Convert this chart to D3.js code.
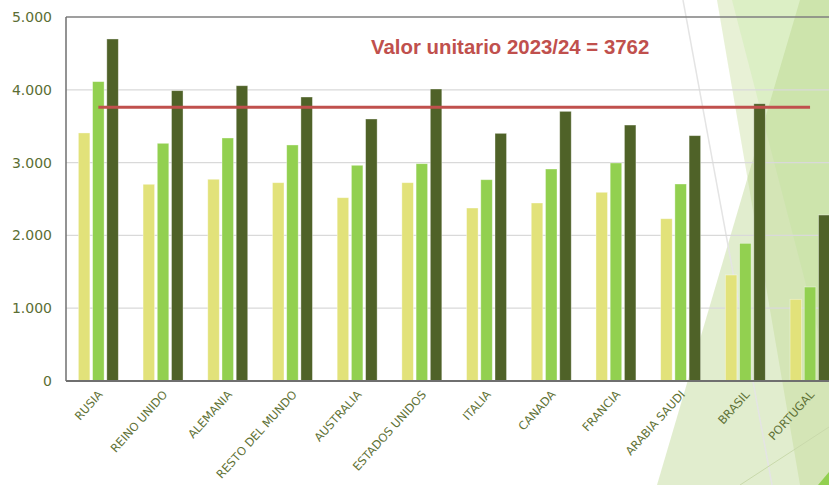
<!DOCTYPE html>
<html>
<head>
<meta charset="utf-8">
<script src="https://cdn.jsdelivr.net/npm/d3@7"></script>
<style>
  body { margin: 0; background: #ffffff; overflow: hidden; }
  svg { display: block; }
</style>
</head>
<body>
<div id="chart"></div>
<script>
// Datos del gráfico
const paises = ["RUSIA", "REINO UNIDO", "ALEMANIA", "RESTO DEL MUNDO", "AUSTRALIA", "ESTADOS UNIDOS",
  "ITALIA", "CANADA", "FRANCIA", "ARABIA SAUDI", "BRASIL", "PORTUGAL"];
const serie1 = [3407, 2702, 2771, 2724, 2518, 2724, 2376, 2445, 2592, 2229, 1456, 1122];
const serie2 = [4112, 3265, 3338, 3242, 2963, 2985, 2765, 2912, 2995, 2706, 1891, 1291];
const serie3 = [4698, 3988, 4056, 3901, 3599, 4011, 3402, 3704, 3516, 3370, 3809, 2280];
const seriesNombres = ["serie1", "serie2", "serie3"];
const seriesColores = ["#e2e27a", "#92d050", "#4f6228"];
const yTicks = [0, 1000, 2000, 3000, 4000, 5000];
const valorUnitario = 3762;
const titulo = "Valor unitario 2023/24 = 3762";

// Dimensiones
let w = 829, h = 485;
let mLeft = 66, mTop = 17, mBottom = 381;

let svg = d3.select("#chart").append("svg").attr("width", w).attr("height", h);

// Fondo decorativo (formas del tema)
let deco = svg.append("g");
deco.append("polygon").attr("points", "717,0 829,0 829,485 800,485")
  .attr("fill", "#d6e6b4").attr("opacity", 0.55);
deco.append("polygon").attr("points", "732,0 829,0 829,485 858,485")
  .attr("fill", "#c6eaa6").attr("opacity", 0.35);
deco.append("polygon").attr("points", "800,0 829,0 829,485 657,485")
  .attr("fill", "#b8d48a").attr("opacity", 0.42);
deco.append("line").attr("x1", 683).attr("y1", 0).attr("x2", 772).attr("y2", 485)
  .attr("stroke", "#e4e4e4").attr("stroke-width", 1.5);
deco.append("line").attr("x1", 740).attr("y1", 485).attr("x2", 829).attr("y2", 427)
  .attr("stroke", "#c9d9ab").attr("stroke-width", 1);
deco.append("polygon").attr("points", "818,485 829,485 829,472").attr("fill", "#92d050");

// Escalas
let x0 = d3.scaleBand().domain(paises).range([mLeft, mLeft + 64.7 * paises.length]).padding(0);
let x1 = d3.scaleBand().domain(seriesNombres).range([0, x0.bandwidth()]).paddingInner(0.19).paddingOuter(0.87);
let y = d3.scaleLinear().domain([0, 5000]).range([mBottom, mTop]);

// Líneas de cuadrícula
svg.append("g").selectAll("line").data(yTicks.filter(d => d > 0 && d < 5000)).enter().append("line")
  .attr("x1", mLeft).attr("x2", w)
  .attr("y1", d => y(d)).attr("y2", d => y(d))
  .attr("stroke", "#d9d9d9").attr("stroke-width", 1.2);

// Borde superior
svg.append("line").attr("x1", mLeft).attr("x2", w).attr("y1", y(5000)).attr("y2", y(5000))
  .attr("stroke", "#7f7f7f").attr("stroke-width", 1.5);

// Eje Y
let yAxis = svg.append("g").attr("transform", "translate(" + mLeft + ",0)")
  .call(d3.axisLeft(y).tickValues(yTicks).tickSize(0).tickPadding(14)
    .tickFormat(d => d3.format(",")(d).replace(/,/g, ".")));
yAxis.select(".domain").remove();
yAxis.selectAll("text").attr("fill", "#5b6e34").style("font-family", "DejaVu Sans")
  .style("font-size", "14px");

// Barras
let datos = paises.map((p, i) => ({ pais: p, valores: [serie1[i], serie2[i], serie3[i]] }));
let grupos = svg.append("g").selectAll("g").data(datos).enter().append("g")
  .attr("transform", d => "translate(" + x0(d.pais) + ",0)");
grupos.selectAll("rect").data(d => d.valores.map((v, j) => ({ serie: seriesNombres[j], valor: v, color: seriesColores[j] })))
  .enter().append("rect")
  .attr("x", d => x1(d.serie))
  .attr("width", x1.bandwidth())
  .attr("y", d => y(d.valor))
  .attr("height", d => mBottom - y(d.valor))
  .attr("fill", d => d.color)
  .attr("stroke", "#ffffff").attr("stroke-opacity", 0.45).attr("stroke-width", 0.8);

// Ejes (línea izquierda e inferior)
svg.append("line").attr("x1", mLeft).attr("x2", mLeft).attr("y1", mTop).attr("y2", mBottom)
  .attr("stroke", "#6f6f6f").attr("stroke-width", 1.5);
svg.append("line").attr("x1", mLeft).attr("x2", w).attr("y1", mBottom).attr("y2", mBottom)
  .attr("stroke", "#6f6f6f").attr("stroke-width", 2);

// Etiquetas de categorías
svg.append("g").selectAll("text").data(paises).enter().append("text")
  .attr("transform", d => "translate(" + (x0(d) + x0.bandwidth() / 2 + 5) + "," + (mBottom + 14) + ") rotate(-48)")
  .attr("text-anchor", "end")
  .attr("fill", "#5f7236")
  .style("font-family", "DejaVu Sans").style("font-size", "11.5px")
  .text(d => d);

// Línea de valor unitario
let xIni = x0(paises[0]) + x0.bandwidth() / 2;
let xFin = x0(paises[paises.length - 1]) + x0.bandwidth() / 2;
svg.append("line").attr("x1", xIni).attr("x2", xFin)
  .attr("y1", y(valorUnitario)).attr("y2", y(valorUnitario))
  .attr("stroke", "#c0504d").attr("stroke-width", 3);

// Título
svg.append("text").attr("x", 371).attr("y", 54)
  .attr("fill", "#c0504d")
  .style("font-family", "Liberation Sans").style("font-weight", "bold").style("font-size", "20.4px")
  .text(titulo);
</script>
</body>
</html>
